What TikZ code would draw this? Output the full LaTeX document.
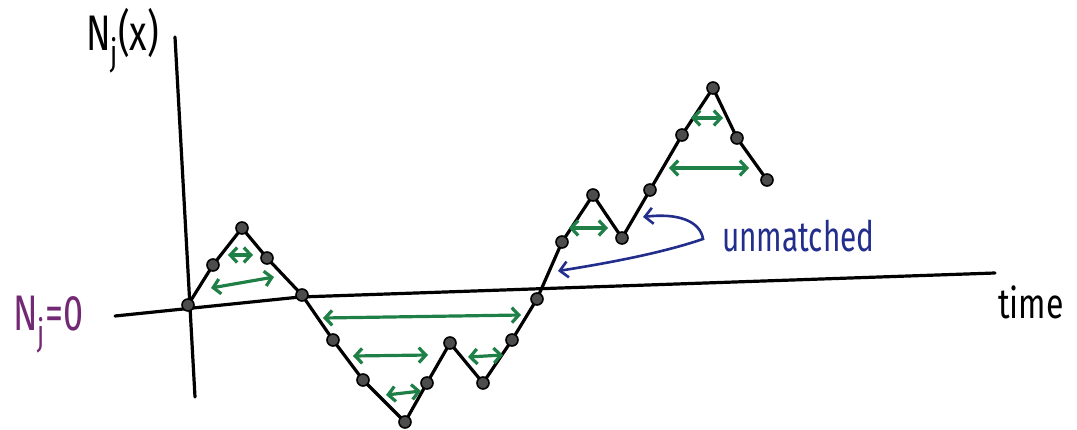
\documentclass[tikz,border=0pt]{standalone}
\usepackage{fontspec}
\setmainfont{Fira Sans}
\usetikzlibrary{arrows.meta}
\definecolor{grn}{RGB}{30,128,70}
\definecolor{blu}{RGB}{35,45,140}
\definecolor{pur}{RGB}{115,40,115}
\tikzset{
  curve/.style={line width=3.2pt, line join=round, line cap=round},
  axisline/.style={line width=3.2pt, line cap=round, line join=round},
  dot/.style={circle, fill=black!70, draw=black, line width=1.6pt, inner sep=0pt, minimum size=12pt},
  match/.style={grn, line width=3.2pt, line cap=round, {Straight Barb[length=7pt,width=15pt]}-{Straight Barb[length=7pt,width=15pt]}},
  unm/.style={blu, line width=2.6pt, line cap=round, {Straight Barb[length=8pt,width=16pt]}-{Straight Barb[length=8pt,width=16pt]}},
  lbl/.style={inner sep=0pt, anchor=base west}
}
\begin{document}
\begin{tikzpicture}[x=1pt,y=-1pt]
\useasboundingbox (0,0) rectangle (1077,429);
% axes
\coordinate (vt) at (175,37);
\coordinate (vb) at (195,397);
\coordinate (hl) at (115,316);
\coordinate (hm) at (300,297);
\coordinate (hr) at (995,273);
\draw[axisline] (vt) -- (vb);
\draw[axisline] (hl) -- (hm) -- (hr);
% path points
\coordinate (p0) at (188,305);
\coordinate (p1) at (213,265);
\coordinate (p2) at (242,228);
\coordinate (p3) at (267,258);
\coordinate (p4) at (302,295);
\coordinate (p5) at (333,340);
\coordinate (p6) at (363,380);
\coordinate (p7) at (405,422);
\coordinate (p8) at (427,383);
\coordinate (p9) at (450,343);
\coordinate (p10) at (483,383);
\coordinate (p11) at (512,340);
\coordinate (p12) at (537,299);
\coordinate (p13) at (562,242);
\coordinate (p14) at (593,195);
\coordinate (p15) at (622,238);
\coordinate (p16) at (650,190);
\coordinate (p17) at (682,135);
\coordinate (p18) at (713,88);
\coordinate (p19) at (737,138);
\coordinate (p20) at (767,180);
\draw[curve] (p0) -- (p1) -- (p2) -- (p3) -- (p4) -- (p5) -- (p6) -- (p7) -- (p8) -- (p9) -- (p10) -- (p11) -- (p12) -- (p13) -- (p14) -- (p15) -- (p16) -- (p17) -- (p18) -- (p19) -- (p20);
\foreach \i in {0,...,20} \node[dot] (d\i) at (p\i) {};
% matched pairs (green)
\coordinate (a1s) at (228,255); \coordinate (a1e) at (253,255);
\coordinate (a2s) at (211,288); \coordinate (a2e) at (274,277);
\coordinate (a3s) at (323,318); \coordinate (a3e) at (521,315);
\coordinate (a4s) at (353,356); \coordinate (a4e) at (428,355);
\coordinate (a5s) at (468,357); \coordinate (a5e) at (503,355);
\coordinate (a6s) at (386,395); \coordinate (a6e) at (421,391);
\coordinate (a7s) at (569,228); \coordinate (a7e) at (608,228);
\coordinate (a8s) at (691,118); \coordinate (a8e) at (723,118);
\coordinate (a9s) at (669,168); \coordinate (a9e) at (749,168);
\foreach \i in {1,...,9} \draw[match] (a\i s) -- (a\i e);
% unmatched (blue)
\coordinate (u1) at (643,217);
\coordinate (u2) at (703,239);
\coordinate (u3) at (558,271);
\draw[unm] (u1) .. controls (676,213) and (700,220) .. (u2) .. controls (665,252) and (615,262) .. (u3);
% labels
\node[lbl] (ylab) at (86,50) {\scalebox{0.72}[1]{\fontsize{50}{52}\selectfont N\raisebox{-0.3em}{\fontsize{36}{38}\selectfont j}(x)}};
\node[lbl, text=pur] (zlab) at (13,330) {\scalebox{0.72}[1]{\fontsize{50}{52}\selectfont N\raisebox{-0.3em}{\fontsize{36}{38}\selectfont j}=0}};
\node[lbl] (tlab) at (998,318) {\scalebox{0.8}[1.05]{\fontsize{40}{42}\selectfont time}};
\node[lbl, text=blu] (ulab) at (722,251) {\scalebox{0.85}[1.2]{\fontsize{35}{37}\selectfont unmatched}};
\end{tikzpicture}
\end{document}
